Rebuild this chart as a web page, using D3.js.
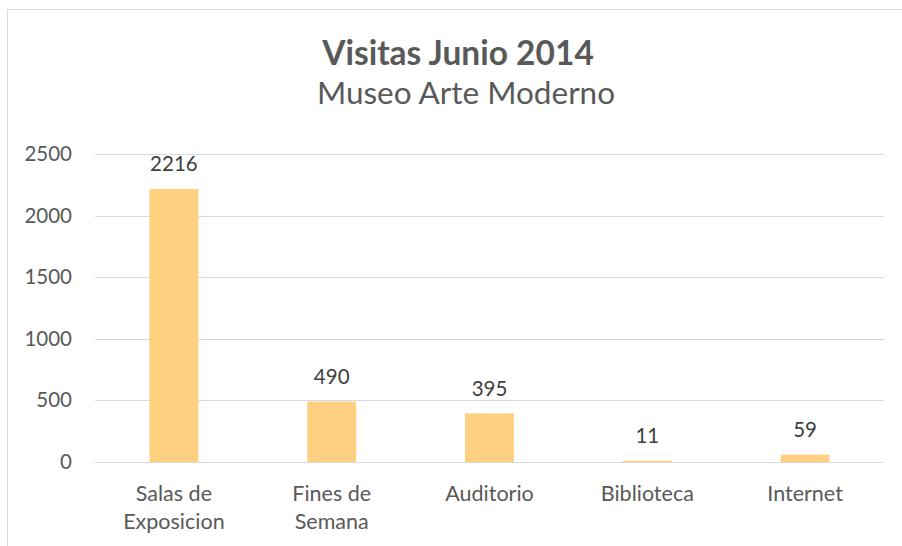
<!DOCTYPE html>
<html>
<head>
<meta charset="utf-8">
<script src="https://cdn.jsdelivr.net/npm/d3@7"></script>
<style>
  html, body { margin: 0; padding: 0; background: #fff; }
  svg { display: block; font-family: Lato, "Open Sans", sans-serif; }
</style>
</head>
<body>
<svg id="chart" width="902" height="546"></svg>
<script>
const categories = [["Salas de", "Exposicion"], ["Fines de", "Semana"], ["Auditorio"], ["Biblioteca"], ["Internet"]];
const values = [2216, 490, 395, 11, 59];
const yTicks = [0, 500, 1000, 1500, 2000, 2500];
const title = "Visitas Junio 2014";
const subtitle = "Museo Arte Moderno";

const svg = d3.select("#chart");
const W = 902, H = 546;
const margin = { left: 95, right: 18, top: 154, bottom: 84 };

// chart border
svg.append("rect")
  .attr("x", 7.5).attr("y", 9.5)
  .attr("width", W + 10).attr("height", H + 10)
  .attr("fill", "none").attr("stroke", "#d9d9d9").attr("stroke-width", 1);

const x = d3.scaleBand()
  .domain(d3.range(categories.length))
  .range([margin.left, W - margin.right])
  .paddingInner(0.69).paddingOuter(0.345);

const y = d3.scaleLinear()
  .domain([0, 2500])
  .range([H - margin.bottom, margin.top]);

// gridlines
svg.append("g")
  .selectAll("line")
  .data(yTicks)
  .join("line")
  .attr("x1", margin.left).attr("x2", W - margin.right)
  .attr("y1", d => Math.round(y(d)) + 0.5).attr("y2", d => Math.round(y(d)) + 0.5)
  .attr("stroke", "#d9d9d9").attr("stroke-width", 1);

// y axis labels
const yAxis = d3.axisLeft(y).tickValues(yTicks).tickSize(0).tickPadding(0).tickFormat(d3.format("d"));
const gy = svg.append("g")
  .attr("transform", `translate(${margin.left - 23},0)`)
  .call(yAxis);
gy.select(".domain").remove();
gy.selectAll("text")
  .attr("fill", "#595959")
  .style("font-size", "20.5px")
  .style("font-family", "Lato, sans-serif");

// bars
svg.append("g")
  .selectAll("rect")
  .data(values)
  .join("rect")
  .attr("x", (d, i) => x(i))
  .attr("width", x.bandwidth())
  .attr("y", d => y(d))
  .attr("height", d => y(0) - y(d))
  .attr("fill", "#ffd07f");

// data labels
svg.append("g")
  .selectAll("text")
  .data(values)
  .join("text")
  .attr("x", (d, i) => x(i) + x.bandwidth() / 2)
  .attr("y", d => y(d) - 17.5)
  .attr("text-anchor", "middle")
  .attr("fill", "#404040")
  .style("font-size", "20.5px")
  .text(d => d);

// category labels
const xAxis = d3.axisBottom(x).tickSize(0).tickFormat(() => "");
const gx = svg.append("g")
  .attr("transform", `translate(0,${y(0)})`)
  .call(xAxis);
gx.select(".domain").remove();
gx.selectAll(".tick").each(function(i) {
  const t = d3.select(this).append("text")
    .attr("text-anchor", "middle")
    .attr("fill", "#595959")
    .style("font-size", "21.5px")
    .style("font-family", "Lato, sans-serif");
  categories[i].forEach((line, k) => {
    t.append("tspan").attr("x", 0).attr("y", 39 + k * 28).text(line);
  });
});

// title
svg.append("text")
  .attr("x", 458).attr("y", 65)
  .attr("text-anchor", "middle")
  .attr("fill", "#595959")
  .style("font-size", "33.5px").style("font-weight", "bold")
  .text(title);
svg.append("text")
  .attr("x", 466).attr("y", 104)
  .attr("text-anchor", "middle")
  .attr("fill", "#595959")
  .style("font-size", "31.5px")
  .text(subtitle);
</script>
</body>
</html>
